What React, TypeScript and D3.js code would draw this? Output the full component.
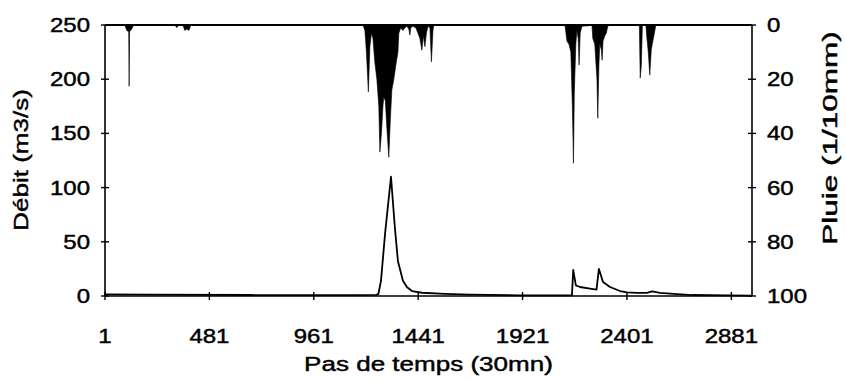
import React from "react";
import * as d3 from "d3";

// Axis ticks
const xTicks = [1, 481, 961, 1441, 1921, 2401, 2881];
const flowTicks = [0, 50, 100, 150, 200, 250];
const rainTicks = [0, 20, 40, 60, 80, 100];

// Discharge (m3/s) at given time steps
const flowSteps = [
  1, 208, 668, 1128, 1247, 1258, 1270, 1289, 1316, 1334, 1348, 1371, 1390, 1413,
  1459, 1564, 1679, 1909, 2148, 2154, 2166, 2185, 2231, 2261, 2272, 2291, 2323,
  2369, 2401, 2447, 2493, 2516, 2553, 2631, 2704, 2861, 2976,
];
const flowValues = [
  1.5, 1.2, 0.9, 0.8, 1.0, 1.8, 14, 58, 110, 63, 32, 14, 8, 4.6,
  3, 2, 1.3, 0.6, 0.5, 24, 9.8, 8.3, 6.8, 5.8, 25, 13, 8.3,
  4.6, 3.4, 2.8, 2.8, 4.3, 2.8, 1.8, 0.9, 0.5, 0.3,
];

// Rainfall (1/10 mm) at given time steps
const rainSteps = [
  1, 92, 101, 110, 112, 114, 124, 133,
  322, 331, 340, 359, 368, 377, 387, 396,
  1187, 1196, 1203, 1212, 1219, 1226, 1233, 1242, 1251, 1260, 1265, 1272, 1279,
  1283, 1290, 1297, 1306, 1313, 1320, 1329, 1338, 1348, 1352, 1361, 1371, 1380,
  1389, 1398, 1403, 1407, 1417, 1430, 1440, 1449, 1458, 1465, 1472, 1479, 1486,
  1495, 1502, 1509, 1513,
  2116, 2125, 2134, 2143, 2150, 2155, 2159, 2166, 2171, 2177, 2181, 2186, 2194,
  2221, 2240, 2244, 2253, 2263, 2267, 2272, 2276, 2283, 2287, 2291, 2299, 2306,
  2313, 2322, 2458, 2462, 2467, 2472, 2488, 2493, 2499, 2506, 2513, 2520, 2527,
  2534, 2976,
];
const rainValues = [
  0, 0, 2, 2.5, 22.6, 2.5, 1.5, 0,
  0, 1, 0, 0, 2, 1.5, 2, 0,
  0, 2, 10, 24.7, 8, 3, 5, 14, 20, 30, 46.9, 40, 30,
  26.5, 28, 38, 48.8, 35, 24, 20, 15, 10, 3, 1, 2, 1,
  0.5, 1.5, 3.7, 1, 0.5, 1, 3, 5, 9.3, 4, 8, 3, 0.5,
  1, 13.6, 2, 0,
  0, 6, 7, 10, 30, 51, 25, 7, 2, 5, 14.8, 3, 0.5,
  0.3, 0, 5, 7, 20, 34.4, 15, 7, 9, 13, 6, 4, 3,
  0.5, 0, 0, 19.6, 15, 0, 0, 5, 10, 18.5, 9, 6, 3,
  0, 0,
];

const W = 846;
const H = 381;
const left = 105;
const right = 752;
const top = 25;
const bottom = 296;

const FONT = "'Liberation Sans', Arial, sans-serif";
const textStyle = { fill: "#000", stroke: "#000", strokeWidth: 0.45 };

export default function App() {
  const x = d3.scaleLinear().domain([1, 2976]).range([left, right]);
  const yFlow = d3.scaleLinear().domain([0, 250]).range([bottom, top]);
  const yRain = d3.scaleLinear().domain([0, 100]).range([top, bottom]);

  const rainData = rainSteps.map((s, i) => [s, rainValues[i]] as [number, number]);
  const flowData = flowSteps.map((s, i) => [s, flowValues[i]] as [number, number]);

  const rainArea = d3
    .area<[number, number]>()
    .x((d) => x(d[0]))
    .y0(yRain(0))
    .y1((d) => yRain(d[1]))(rainData);

  const flowLine = d3
    .line<[number, number]>()
    .x((d) => x(d[0]))
    .y((d) => yFlow(d[1]))(flowData);

  const tick = 4;

  return (
    <svg
      width={W}
      height={H}
      style={{ position: "absolute", left: 0, top: 0, background: "#fff" }}
      fontFamily={FONT}
    >
      <rect x={0} y={0} width={W} height={H} fill="#fff" />

      {/* rainfall hanging from the top */}
      <path d={rainArea || ""} fill="#000" stroke="#000" strokeWidth={0.6} />

      {/* discharge */}
      <path d={flowLine || ""} fill="none" stroke="#000" strokeWidth={1.8} strokeLinejoin="round" />

      {/* frame */}
      <line x1={left} x2={right} y1={top} y2={top} stroke="#000" strokeWidth={2} />
      <line x1={left} x2={right} y1={bottom} y2={bottom} stroke="#000" strokeWidth={1.6} />
      <line x1={left} x2={left} y1={top} y2={bottom} stroke="#000" strokeWidth={1.6} />
      <line x1={right} x2={right} y1={top} y2={bottom} stroke="#000" strokeWidth={1.6} />

      {/* left axis */}
      {flowTicks.map((t) => (
        <g key={"f" + t}>
          <line x1={left - tick} x2={left + tick} y1={yFlow(t)} y2={yFlow(t)} stroke="#000" strokeWidth={1.4} />
          <text
            transform={`translate(${left - 15},${yFlow(t) + 7}) scale(1.2,1)`}
            textAnchor="end"
            fontSize={20}
            style={textStyle}
          >
            {t}
          </text>
        </g>
      ))}

      {/* right axis */}
      {rainTicks.map((t) => (
        <g key={"r" + t}>
          <line x1={right - tick} x2={right + tick} y1={yRain(t)} y2={yRain(t)} stroke="#000" strokeWidth={1.4} />
          <text
            transform={`translate(${right + 15},${yRain(t) + 7}) scale(1.2,1)`}
            textAnchor="start"
            fontSize={20}
            style={textStyle}
          >
            {t}
          </text>
        </g>
      ))}

      {/* bottom axis */}
      {xTicks.map((t) => (
        <g key={"x" + t}>
          <line x1={x(t)} x2={x(t)} y1={bottom - tick} y2={bottom + tick} stroke="#000" strokeWidth={1.4} />
          <text
            transform={`translate(${x(t)},343) scale(1.2,1)`}
            textAnchor="middle"
            fontSize={20}
            style={textStyle}
          >
            {t}
          </text>
        </g>
      ))}

      {/* axis titles */}
      <text
        transform={`translate(${(left + right) / 2},371) scale(1.24,1)`}
        textAnchor="middle"
        fontSize={21}
        style={textStyle}
      >
        Pas de temps (30mn)
      </text>
      <text
        transform={`translate(28,160) rotate(-90) scale(1.24,1)`}
        textAnchor="middle"
        fontSize={21}
        style={textStyle}
      >
        Débit (m3/s)
      </text>
      <text
        transform={`translate(837,138) rotate(-90) scale(1.5,1)`}
        textAnchor="middle"
        fontSize={21}
        style={textStyle}
      >
        Pluie (1/10mm)
      </text>
    </svg>
  );
}
